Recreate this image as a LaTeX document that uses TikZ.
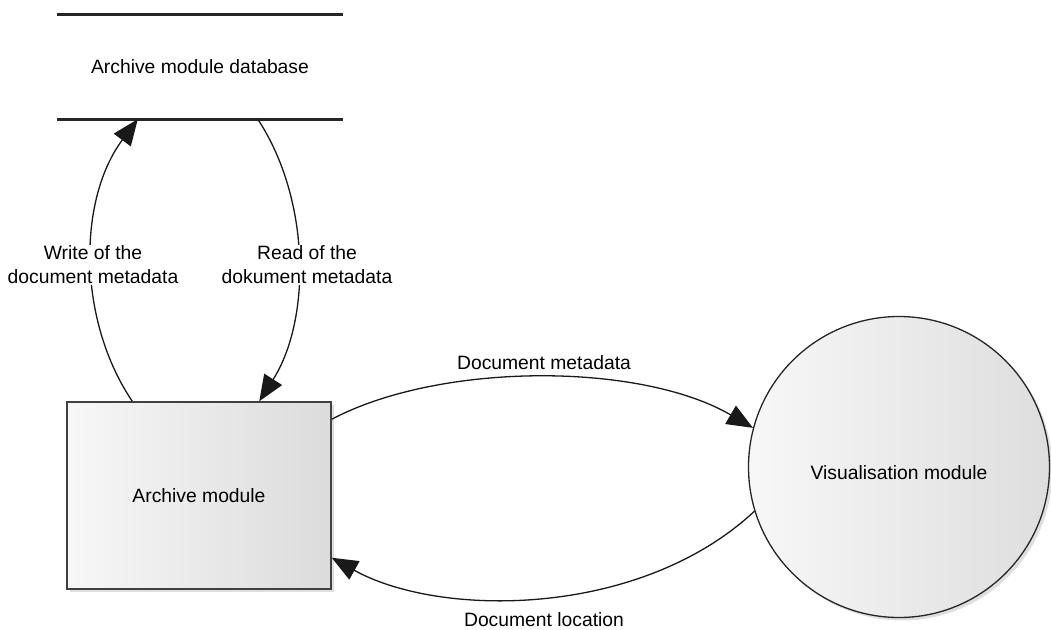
\documentclass[tikz,border=0pt]{standalone}
\usepackage{fontspec}
\setmainfont{Liberation Sans}
\usetikzlibrary{arrows.meta,shadows,calc}
\begin{document}
\begin{tikzpicture}[x=1pt,y=-1pt,
  every node/.style={font=\fontsize{19.3}{24}\selectfont, text=black},
  flow/.style={line width=1.3pt, draw=black!90, -{Triangle[length=26pt,width=21pt]}},
  dbline/.style={line width=3pt, draw=black!85},
  lbl/.style={align=center, fill=white, inner sep=1pt},
  procbox/.style={draw=black!75, line width=1.5pt, left color=white!97!black, right color=black!14,
     drop shadow={shadow xshift=3pt, shadow yshift=-3pt, opacity=0.25}},
  proccirc/.style={circle, draw=black!85, line width=1.3pt, left color=white!97!black, right color=black!13,
     drop shadow={shadow xshift=3pt, shadow yshift=-3pt, opacity=0.25}}
]
\useasboundingbox (0,0) rectangle (1051,629);

% data store
\node[minimum width=286pt, minimum height=104pt, inner sep=0pt] (db) at (200,67) {Archive module database};
\draw[dbline] (db.north west) -- (db.north east);
\draw[dbline] (db.south west) -- (db.south east);

% process box
\node[procbox, minimum width=264pt, minimum height=187pt, inner sep=0pt] (am) at (199,495.5) {Archive module};

% process circle
\node[proccirc, minimum size=301pt, inner sep=0pt] (vm) at (899,467) {};
\node (vml) at (899,473) {Visualisation module};

% attachment points
\coordinate (wS) at ($(am.north west)+(66,0)$);
\coordinate (wE) at ($(db.south west)+(81,0)$);
\coordinate (rS) at ($(db.south west)+(201,0)$);
\coordinate (rE) at ($(am.north west)+(193,0)$);
\coordinate (mS) at ($(am.north east)+(0,18)$);
\coordinate (mE) at (vm.165);
\coordinate (lS) at (vm.197);
\coordinate (lE) at ($(am.south east)+(0,-32)$);

\draw[flow] (wS) .. controls (77.5,320) and (77.5,200) .. (wE);
\draw[flow] (rS) .. controls (311,200) and (311,320) .. (rE);
\draw[flow] (mS) .. controls (440,362) and (640,362) .. (mE);
\draw[flow] (lS) .. controls (640,618) and (440,618) .. (lE);

\node[lbl] (wl) at (93,265) {Write of the\\document metadata};
\node[lbl] (rl) at (307,265) {Read of the\\dokument metadata};
\node (ml) at (544,363) {Document metadata};
\node (ll) at (544,620) {Document location};
\end{tikzpicture}
\end{document}
